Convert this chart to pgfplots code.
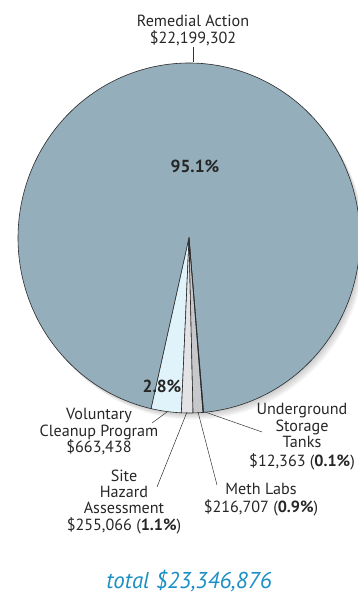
\documentclass[border=0pt]{standalone}
\usepackage{pgfplots}
\pgfplotsset{compat=1.18}
\usepackage{fontspec}
\setmainfont{PT Sans}
\definecolor{remedial}{HTML}{94AEBB}
\definecolor{volunt}{HTML}{E0F2FA}
\definecolor{siteh}{HTML}{E3E3E5}
\definecolor{meth}{HTML}{C6C8CB}
\definecolor{ust}{HTML}{7D7F82}
\definecolor{totalblue}{HTML}{1C8FC4}
\definecolor{edge}{HTML}{2A2A2A}
\tikzset{lab/.style={anchor=base, font=\fontsize{16.2}{17}\selectfont, text=black!85, inner sep=0pt}}
% Values: Remedial 22199302, Voluntary 663438, Site Hazard 255066,
% Meth Labs 216707, UST 12363; total 23346876
% Angles (deg) start at 257.2, counterclockwise:
% Voluntary 257.20-267.43, Site 267.43-271.36, Meth 271.36-274.70,
% UST 274.70-274.89, Remedial 274.89-617.20
\begin{document}
\begin{tikzpicture}
\path[use as bounding box] (0,0) rectangle (358bp,594bp);
\begin{axis}[
  at={(0,0)}, anchor=south west,
  width=358bp, height=594bp, scale only axis,
  xmin=0, xmax=358, ymin=0, ymax=594,
  axis lines=none,
]
% soft shadow
\pgfplotsinvokeforeach{1,2,3,4,5,6}{
  \addplot[draw=none, fill=black, fill opacity=0.035, domain=0:360, samples=150, variable=\t]
    ({189+#1*0.9+171*cos(t)},{356-#1*1.1+175*sin(t)}) -- cycle;
}
% slices
\addplot[fill=remedial, draw=edge, line width=0.6pt, domain=274.89:617.2, samples=300, variable=\t]
  ({189+171*cos(t)},{356+175*sin(t)}) -- (axis cs:189,356) -- cycle;
\addplot[fill=volunt, draw=edge, line width=0.6pt, domain=257.2:267.43, samples=20, variable=\t]
  ({189+171*cos(t)},{356+175*sin(t)}) -- (axis cs:189,356) -- cycle;
\addplot[fill=siteh, draw=edge, line width=0.6pt, domain=267.43:271.36, samples=10, variable=\t]
  ({189+171*cos(t)},{356+175*sin(t)}) -- (axis cs:189,356) -- cycle;
\addplot[fill=meth, draw=edge, line width=0.6pt, domain=271.36:274.70, samples=10, variable=\t]
  ({189+171*cos(t)},{356+175*sin(t)}) -- (axis cs:189,356) -- cycle;
\addplot[fill=ust, draw=edge, line width=0.6pt, domain=274.70:274.89, samples=3, variable=\t]
  ({189+171*cos(t)},{356+175*sin(t)}) -- (axis cs:189,356) -- cycle;
% leader lines
\addplot[black!80, line width=0.5pt] coordinates {(193,547) (193,532)};
\addplot[black!80, line width=0.5pt] coordinates {(152,171) (167,182)};
\addplot[black!80, line width=0.5pt] coordinates {(157,107) (187,182)};
\addplot[black!80, line width=0.5pt] coordinates {(217,109) (198,182)};
\addplot[black!80, line width=0.5pt] coordinates {(262,162) (205,182)};
% labels
\node[lab] at (axis cs:193,567) {Remedial Action};
\node[lab] at (axis cs:193,550) {\$22,199,302};
\node[lab, font=\fontsize{17.5}{18}\selectfont\bfseries] at (axis cs:195,421) {95.1\%};
\node[lab, font=\fontsize{17.5}{18}\selectfont\bfseries] at (axis cs:162,201) {2.8\%};
\node[lab] at (axis cs:99,174) {Voluntary};
\node[lab] at (axis cs:99,157) {Cleanup Program};
\node[lab] at (axis cs:99,141) {\$663,438};
\node[lab] at (axis cs:124,112) {Site};
\node[lab] at (axis cs:124,96) {Hazard};
\node[lab] at (axis cs:124,80) {Assessment};
\node[lab] at (axis cs:124,63) {\$255,066 (\textbf{1.1\%})};
\node[lab] at (axis cs:261,99) {Meth Labs};
\node[lab] at (axis cs:261,81) {\$216,707 (\textbf{0.9\%})};
\node[lab] at (axis cs:302,179) {Underground};
\node[lab] at (axis cs:302,162) {Storage};
\node[lab] at (axis cs:302,146) {Tanks};
\node[lab] at (axis cs:302,127) {\$12,363 (\textbf{0.1\%})};
\node[lab, font=\fontsize{23}{24}\selectfont\itshape, text=totalblue] at (axis cs:189,6) {total \$23,346,876};
\end{axis}
\end{tikzpicture}
\end{document}
